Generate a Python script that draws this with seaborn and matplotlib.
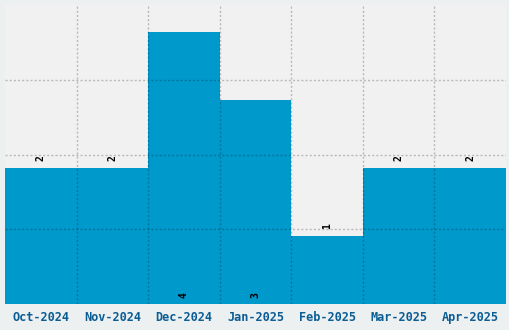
import matplotlib
matplotlib.use("Agg")
import matplotlib.pyplot as plt
import seaborn as sns
import pandas as pd
import numpy as np

months = ["Oct-2024", "Nov-2024", "Dec-2024", "Jan-2025", "Feb-2025", "Mar-2025", "Apr-2025"]
counts = [2, 2, 4, 3, 1, 2, 2]

df = pd.DataFrame({"month": months, "count": counts})

sns.set_theme(style="white")
plt.rcParams["font.family"] = ["DejaVu Sans Mono", "DejaVu Sans"]

fig = plt.figure(figsize=(5.1, 3.3), dpi=100, facecolor="#ecf0f1")
ax = fig.add_axes([5 / 510, 26 / 330, 501 / 510, 299 / 330])
ax.set_facecolor("#f1f1f1")

sns.barplot(data=df, x="month", y="count", color="#0099cc", saturation=1,
            width=1.0, ax=ax, zorder=1)
for p in ax.patches:
    p.set_edgecolor("none")

ax.set_xlim(-0.5, len(months) - 0.5)
ax.set_ylim(0, 4.4)
ax.set_yticks([1.1, 2.2, 3.3])
ax.set_yticklabels([])
ax.tick_params(axis="y", length=0)
ax.set_xticks(np.arange(len(months) - 1) + 0.5, minor=True)
ax.tick_params(axis="x", which="both", length=0, pad=5)
ax.tick_params(axis="x", which="major", labelsize=8.6, labelcolor="#0b5d94")
for lbl in ax.get_xticklabels():
    lbl.set_fontweight("bold")

ax.grid(False)
ax.grid(axis="y", which="major", color="black", alpha=0.23, linestyle=(0, (1.5, 1.5)), linewidth=1, zorder=3)
ax.grid(axis="x", which="minor", color="black", alpha=0.23, linestyle=(0, (1.5, 1.5)), linewidth=1, zorder=3)
ax.set_axisbelow(False)

for s in ax.spines.values():
    s.set_visible(False)
ax.set_xlabel("")
ax.set_ylabel("")

for i, v in enumerate(counts):
    if v >= 3:
        ax.annotate(str(v), xy=(i, 0), xytext=(0, 4), textcoords="offset points",
                    rotation=90, ha="center", va="bottom", fontsize=7,
                    fontweight="bold", color="black")
    else:
        ax.annotate(str(v), xy=(i, v), xytext=(0, 5), textcoords="offset points",
                    rotation=90, ha="center", va="bottom", fontsize=7,
                    fontweight="bold", color="black")

fig.savefig("out.png", dpi=100, facecolor=fig.get_facecolor())
